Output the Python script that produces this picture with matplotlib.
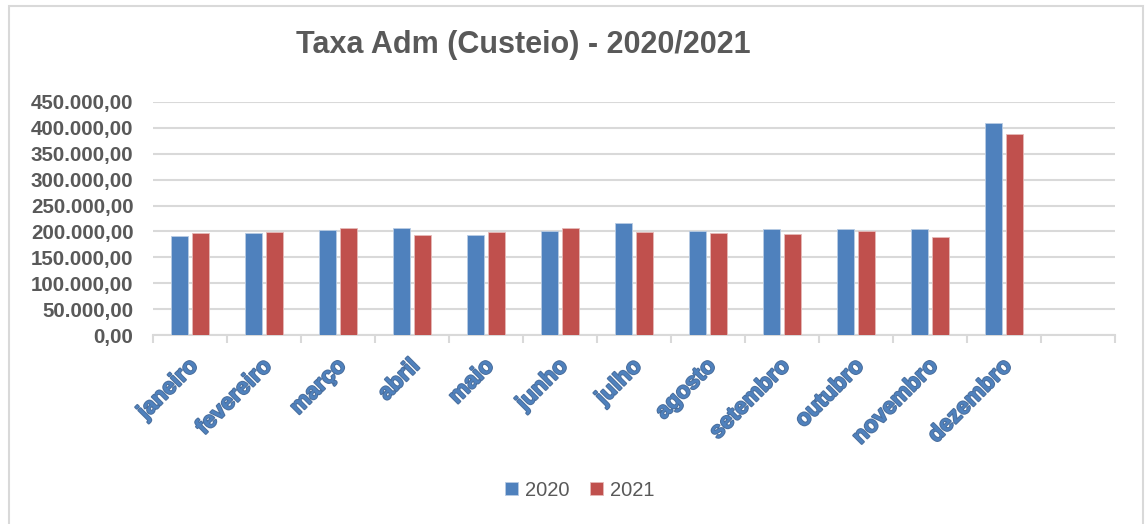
import matplotlib
matplotlib.use("Agg")
import matplotlib.pyplot as plt
import matplotlib.patheffects as pe
from matplotlib.patches import Rectangle
from matplotlib.ticker import FuncFormatter, MultipleLocator, FixedLocator
import numpy as np

months = ["janeiro", "fevereiro", "março", "abril", "maio", "junho", "julho",
          "agosto", "setembro", "outubro", "novembro", "dezembro"]
v2020 = [190400, 197600, 203000, 207000, 193000, 201400, 217000,
         201400, 205000, 204700, 205000, 408700]
v2021 = [197000, 199500, 206000, 193700, 199000, 206600, 198000,
         197600, 196000, 201400, 190000, 388700]
series_names = ["2020", "2021"]

plt.rcParams['font.family'] = ['Liberation Sans', 'DejaVu Sans']

W, H = 1146, 524
fig = plt.figure(figsize=(W/100, H/100), dpi=100)
fig.patch.set_facecolor("white")

# chart border
fig.add_artist(Rectangle((9/W, -0.05), (1143-9)/W, 1.05 - 6/H, transform=fig.transFigure,
                         fill=False, edgecolor="#D9D9D9", linewidth=1.5))

ax = fig.add_axes([153/W, 1-335/H, (1115-153)/W, (335-102)/H])
x = np.arange(len(months))
bw = 0.225
off = 0.14
ax.bar(x - off, v2020, bw, color="#4F81BD", edgecolor="#B8CCE4", linewidth=0.6,
       label=series_names[0], zorder=3)
ax.bar(x + off, v2021, bw, color="#C0504D", edgecolor="#E6B9B8", linewidth=0.6,
       label=series_names[1], zorder=3)

ax.set_xlim(-0.5, 12.5)
ax.set_ylim(0, 450000)
ax.yaxis.set_major_locator(MultipleLocator(50000))

def fmt(v, p):
    s = f"{v:,.2f}"
    return s.replace(",", "X").replace(".", ",").replace("X", ".")
ax.yaxis.set_major_formatter(FuncFormatter(fmt))

ax.grid(axis="y", color="#D9D9D9", linewidth=1.5, zorder=0)
for s in ["top", "right", "left"]:
    ax.spines[s].set_visible(False)
ax.spines["bottom"].set_color("#D9D9D9")
ax.spines["bottom"].set_linewidth(1.5)

ax.tick_params(axis="y", length=0, pad=14, labelsize=14.8, labelcolor="#595959")
for t in ax.get_yticklabels():
    t.set_fontweight("bold")

ax.set_xticks(x)
ax.set_xticklabels([])
ax.tick_params(axis="x", which="major", length=0)
ax.xaxis.set_minor_locator(FixedLocator(np.arange(-0.5, 13, 1.0)))
ax.tick_params(axis="x", which="minor", length=6, width=1.5, color="#D9D9D9")

for xi, m in zip(x, months):
    ax.annotate(m, xy=(xi, 0), xycoords=("data", "axes fraction"),
                xytext=(-3, -14), textcoords="offset points",
                rotation=45, ha="right", va="top", rotation_mode="anchor",
                fontsize=16.5, fontweight="bold", color="#4F81BD",
                path_effects=[pe.withStroke(linewidth=1.4, foreground="#4A6E9C")])

fig.text(523/W, 1-45/H, "Taxa Adm (Custeio) - 2020/2021", ha="center", va="center",
         fontsize=22, fontweight="bold", color="#595959")

leg = fig.legend(loc="center", bbox_to_anchor=(580/W, 1-490/H), ncol=2, frameon=False,
                 fontsize=14.5, handlelength=0.65, handleheight=0.65, handletextpad=0.35,
                 columnspacing=1.0)
for t in leg.get_texts():
    t.set_color("#595959")

fig.savefig("out.png", dpi=100, facecolor="white")
